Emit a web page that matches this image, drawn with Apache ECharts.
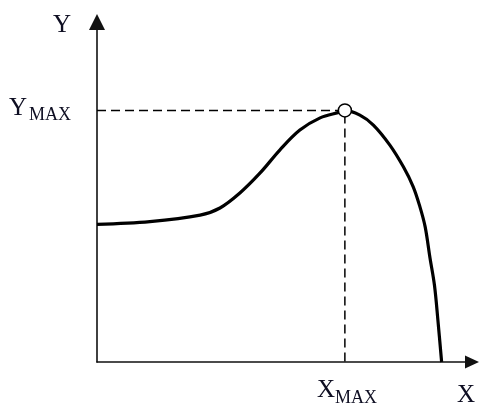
<!DOCTYPE html>
<html>
<head>
<meta charset="utf-8">
<script src="https://cdn.jsdelivr.net/npm/echarts@6/dist/echarts.min.js"></script>
<style>
html,body{margin:0;padding:0;background:#fff;}
#c{width:479px;height:414px;}
</style>
</head>
<body>
<div id="c"></div>
<script>
// Curve points (x, y), in axis units (x 0..10, y 0..10)
const curveX = [0, 1.41, 2.75, 3.28, 3.81, 4.35, 4.88, 5.41, 5.95, 6.48, 6.61, 7.01, 7.37, 7.81, 8.17, 8.43, 8.61, 8.75, 8.88, 9.0, 9.09, 9.19];
const curveY = [4.05, 4.13, 4.32, 4.53, 4.97, 5.56, 6.24, 6.82, 7.18, 7.35, 7.40, 7.26, 6.97, 6.38, 5.74, 5.16, 4.57, 3.98, 3.06, 2.25, 1.24, 0];
const peakX = 6.61;
const peakY = 7.40;
const axisNames = ['X', 'Y'];
const maxLabel = ['X', 'MAX'];

const curve = curveX.map((x, i) => [x, curveY[i]]);
const guide = [[0, peakY], [peakX, peakY], [peakX, 0]];

const chart = echarts.init(document.getElementById('c'), null, {renderer: 'canvas'});
const serif = '"Liberation Serif", "DejaVu Serif", serif';
const txtColor = '#0e0e22';

chart.setOption({
  animation: false,
  backgroundColor: '#fff',
  grid: {left: 97, right: 7, top: 22, bottom: 52, containLabel: false},
  xAxis: {
    type: 'value', min: 0, max: 10,
    axisLine: {show: true, onZero: false, symbol: ['none', 'triangle'], symbolSize: [13, 14],
      lineStyle: {color: '#111', width: 1.6}},
    axisTick: {show: false}, axisLabel: {show: false}, splitLine: {show: false}
  },
  yAxis: {
    type: 'value', min: 0, max: 10,
    axisLine: {show: true, onZero: false, symbol: ['none', 'triangle'], symbolSize: [16, 16],
      lineStyle: {color: '#111', width: 1.6}},
    axisTick: {show: false}, axisLabel: {show: false}, splitLine: {show: false}
  },
  series: [
    {
      type: 'line', data: guide, symbol: 'none', z: 1,
      lineStyle: {color: '#000', width: 1.5, type: [9, 5]}
    },
    {
      type: 'line', data: curve, symbol: 'none', smooth: 0.35, z: 2,
      lineStyle: {color: '#000', width: 3.2}
    },
    {
      type: 'scatter', data: [[peakX, peakY]], symbol: 'circle', symbolSize: 13, z: 3,
      itemStyle: {color: '#fff', borderColor: '#000', borderWidth: 1.5, opacity: 1}
    }
  ],
  graphic: [
    {type: 'text', left: 53, top: 13, style: {text: axisNames[1], font: '25px ' + serif, fill: txtColor}},
    {type: 'text', left: 9, top: 96, style: {text: axisNames[1], font: '25px ' + serif, fill: txtColor}},
    {type: 'text', left: 29, top: 106, style: {text: maxLabel[1], font: '18px ' + serif, fill: txtColor}},
    {type: 'text', left: 317, top: 378, style: {text: maxLabel[0], font: '25px ' + serif, fill: txtColor}},
    {type: 'text', left: 335, top: 389, style: {text: maxLabel[1], font: '18px ' + serif, fill: txtColor}},
    {type: 'text', left: 457, top: 383, style: {text: axisNames[0], font: '25px ' + serif, fill: txtColor}}
  ]
});
</script>
</body>
</html>
